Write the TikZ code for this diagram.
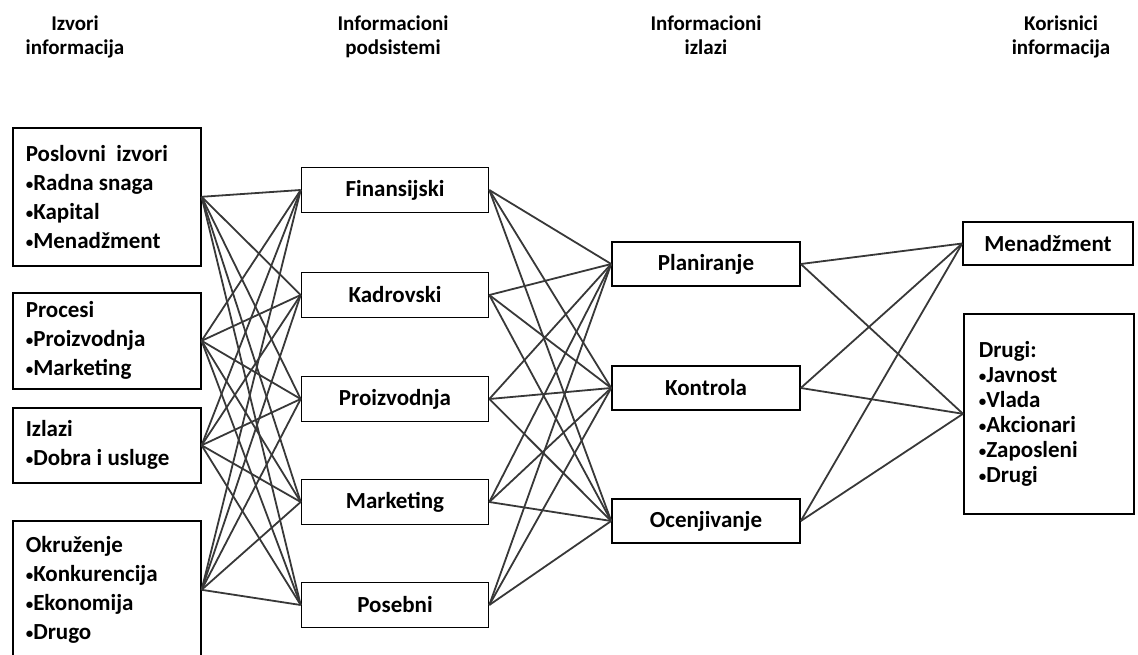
\documentclass[tikz,border=0pt]{standalone}
\usepackage{fontspec}
\setmainfont{Carlito}
\newcommand{\stavka}{{\fontsize{15}{15}\selectfont\raisebox{1pt}{•}}}
\tikzset{
	head/.style={align=center, anchor=north, font=\bfseries\fontsize{21}{24}\selectfont},
	box/.style={draw=black, line width=1.6pt, rectangle, inner sep=0pt,
		font=\bfseries\fontsize{23}{29}\selectfont},
	srcbox/.style={box, anchor=north west, align=flush left, inner xsep=13pt,
		text width=162pt},
	subbox/.style={box, minimum width=187pt, minimum height=45pt},
	link/.style={line width=1.8pt, color=black!78},
}
\begin{document}
\begin{tikzpicture}[x=1pt,y=-1pt]
	\useasboundingbox (0,0) rectangle (1138,655);
	% naslovi kolona
	\node[head] (h1) at (75,12) {Izvori\\informacija};
	\node[head] (h2) at (393,12) {Informacioni\\podsistemi};
	\node[head] (h3) at (706,12) {Informacioni\\izlazi};
	\node[head] (h4) at (1061,12) {Korisnici\\informacija};
	% izvori
	\node[srcbox, minimum height=138pt] (src1) at (12,127)
		{Poslovni~ izvori\\\stavka Radna snaga\\\stavka Kapital\\\stavka Menadžment};
	\node[srcbox, minimum height=96pt] (src2) at (12,292)
		{Procesi\\\stavka Proizvodnja\\\stavka Marketing};
	\node[srcbox, minimum height=75pt] (src3) at (12,407)
		{Izlazi\\\stavka Dobra i usluge};
	\node[srcbox, minimum height=138pt] (src4) at (12,520)
		{Okruženje\\\stavka Konkurencija\\\stavka Ekonomija\\\stavka Drugo};
	% podsistemi
	\node[subbox] (sub1) at (395,190) {Finansijski};
	\node[subbox] (sub2) at (395,295) {Kadrovski};
	\node[subbox] (sub3) at (395,399) {Proizvodnja};
	\node[subbox] (sub4) at (395,502) {Marketing};
	\node[subbox] (sub5) at (395,605) {Posebni};
	% izlazi
	\node[subbox, minimum width=188pt, minimum height=44pt] (out1) at (706,264) {Planiranje};
	\node[subbox, minimum width=188pt, minimum height=44pt] (out2) at (706,388) {Kontrola};
	\node[subbox, minimum width=188pt, minimum height=44pt] (out3) at (706,521) {Ocenjivanje};
	% korisnici
	\node[box, minimum width=170pt, minimum height=43pt] (usr1) at (1048,243.5) {Menadžment};
	\node[box, anchor=north west, align=flush left, inner xsep=15pt, text width=140pt,
		minimum height=200pt, font=\bfseries\fontsize{23}{25}\selectfont] (usr2) at (963,313)
		{Drugi:\\\stavka Javnost\\\stavka Vlada\\\stavka Akcionari\\\stavka Zaposleni\\\stavka Drugi\\[-10pt]};
	% veze
	\foreach \s in {1,2,3,4}
		\foreach \m in {1,2,3,4,5}
			\draw[link] (src\s.east) -- (sub\m.west);
	\foreach \m in {1,2,3,4,5}
		\foreach \o in {1,2,3}
			\draw[link] (sub\m.east) -- (out\o.west);
	\foreach \o in {1,2,3}
		\foreach \u in {1,2}
			\draw[link] (out\o.east) -- (usr\u.west);
\end{tikzpicture}
\end{document}
